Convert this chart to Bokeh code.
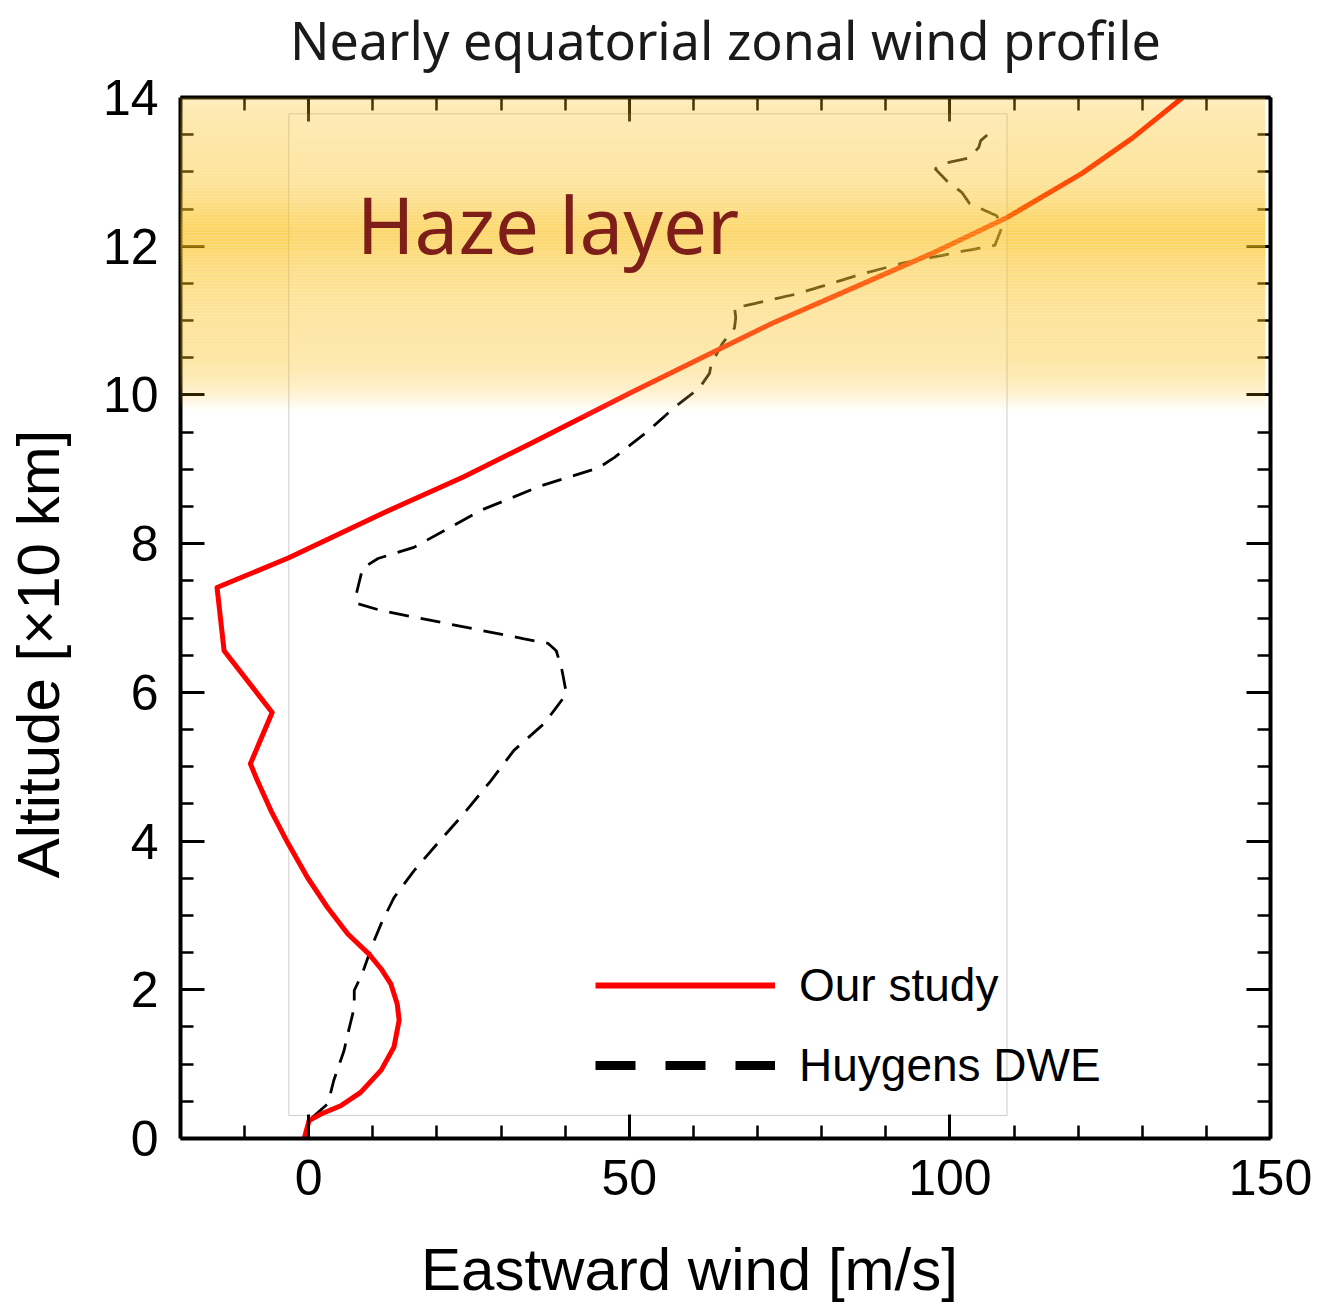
import numpy as np
from bokeh.plotting import figure
from bokeh.models import (Range1d, LinearAxis, FixedTicker, BoxAnnotation, Label,
                          Legend, LegendItem, CustomLabelingPolicy)
from bokeh.embed import file_html
from bokeh.resources import INLINE

# Zonal wind profile from our model (eastward wind in m/s, altitude in units of 10 km)
study_wind = [-0.7, 0.05, 1.9, 5.0, 8.1, 11.3, 13.3, 14.1, 13.8, 12.8, 11.3, 9.4, 6.1, 2.9,
              -0.2, -3.3, -5.9, -8.0, -9.1, -5.7, -13.2, -14.3, -3.1, 11.3, 24.2, 34.7,
              50.2, 61.3, 72.2, 85.2, 97.1, 109.0, 120.6, 128.4, 136.3]
study_alt = [0.0, 0.24, 0.33, 0.44, 0.62, 0.92, 1.23, 1.59, 1.81, 2.08, 2.28, 2.48, 2.75, 3.11,
             3.51, 3.98, 4.41, 4.81, 5.04, 5.73, 6.56, 7.41, 7.81, 8.4, 8.9, 9.35,
             10.03, 10.5, 10.96, 11.45, 11.9, 12.39, 12.98, 13.45, 14.0]

# Huygens Doppler Wind Experiment profile
dwe_wind = [0.5, 3.0, 3.9, 5.5, 6.1, 7.1, 7.1, 8.4, 10.0, 11.3, 13.3, 16.4, 19.5, 24.2, 28.4,
            32.0, 36.7, 38.3, 40.2, 39.4, 38.6, 37.3, 33.6, 11.3, 7.7, 7.3, 8.4, 10.8, 16.4,
            26.9, 36.3, 45.2, 47.7, 53.0, 57.0, 60.9, 62.5, 62.8, 64.5, 66.4, 66.6, 66.4,
            68.1, 76.2, 86.4, 93.0, 102.5, 107.0, 108.1, 107.3, 103.1, 101.9, 99.5, 97.7,
            98.9, 103.1, 104.5, 104.8, 106.7, 106.4]
dwe_alt = [0.28, 0.47, 0.78, 1.18, 1.41, 1.76, 1.99, 2.23, 2.62, 2.89, 3.24, 3.6, 3.91, 4.37,
           4.81, 5.22, 5.58, 5.76, 5.98, 6.34, 6.56, 6.66, 6.72, 7.1, 7.19, 7.28, 7.67, 7.8,
           7.95, 8.45, 8.78, 9.02, 9.16, 9.52, 9.83, 10.09, 10.29, 10.42, 10.69, 10.9, 11.04,
           11.18, 11.2, 11.36, 11.63, 11.78, 11.94, 12.01, 12.25, 12.41, 12.57, 12.72, 12.88,
           13.04, 13.11, 13.19, 13.33, 13.42, 13.56, 13.6]

series_labels = ["Our study", "Huygens DWE"]

x_major = [0, 50, 100, 150]
x_minor = [-10] + [v for v in range(10, 150, 10) if v % 50]
y_major = list(range(0, 15, 2))
y_minor = [v / 2 for v in range(1, 28) if v % 4]

# Haze layer opacity profile (altitude -> opacity)
haze_y = [9.78, 9.9, 10.05, 10.2, 10.5, 11.2, 11.7, 12.0, 12.18, 12.4, 12.6, 12.9, 13.4,
          13.8, 13.95, 14.05]
haze_a = [0.0, 0.1, 0.22, 0.3, 0.38, 0.43, 0.52, 0.62, 0.66, 0.6, 0.5, 0.42, 0.38,
          0.33, 0.27, 0.2]

X0, X1, Y0, Y1 = -20, 150, 0, 14
FRAME_TOP, FRAME_H = 97, 1041
PX_PER_Y = FRAME_H / (Y1 - Y0)

# trailing em + thin space nudges the centred axis titles along their axis
NUDGE = "\u2003\u2009"

p = figure(width=1326, height=1305, output_backend="svg", toolbar_location=None,
           x_range=Range1d(X0, X1), y_range=Range1d(Y0, Y1),
           x_axis_location=None, y_axis_location=None,
           min_border_left=180, min_border_right=56, min_border_top=FRAME_TOP,
           min_border_bottom=167)
p.outline_line_color = None
p.background_fill_color = "white"
p.border_fill_color = "white"
p.grid.visible = False
p.title.visible = False

no_labels = CustomLabelingPolicy(code="""
for (const i of indices) { indices.unset(i) }
return indices
""")


def frame_axis(ticks, minor, show_labels=True):
    ax = LinearAxis(ticker=FixedTicker(ticks=ticks, minor_ticks=minor))
    ax.axis_line_width = 4
    ax.axis_line_color = "black"
    ax.major_tick_in = 24
    ax.major_tick_out = 0
    ax.minor_tick_in = 13
    ax.minor_tick_out = 0
    ax.major_tick_line_width = 3
    ax.minor_tick_line_width = 2.5
    ax.major_label_text_font = "Liberation Sans"
    ax.major_label_text_color = "black"
    ax.axis_label_text_font = "Liberation Sans"
    ax.axis_label_text_font_size = "60px"
    ax.axis_label_text_font_style = "normal"
    ax.axis_label_text_color = "black"
    if show_labels:
        ax.major_label_text_font_size = "50px"
    else:
        ax.major_label_text_font_size = "0px"
        ax.major_label_standoff = 0
        ax.major_label_policy = no_labels
    return ax


left = frame_axis(y_major, y_minor)
left.major_label_standoff = 22
left.axis_label = "Altitude [×10 km]" + NUDGE
left.axis_label_standoff = 28

bottom = frame_axis(x_major, x_minor)
bottom.major_label_standoff = 21
bottom.axis_label = "Eastward wind [m/s]" + NUDGE
bottom.axis_label_standoff = 38

right = frame_axis(y_major, y_minor, show_labels=False)

top = frame_axis(x_major, x_minor, show_labels=False)
top.axis_label = "Nearly equatorial zonal wind profile"
top.axis_label_text_font = "Noto Sans"
top.axis_label_text_font_size = "52px"
top.axis_label_text_color = "#1a1a1a"
top.axis_label_standoff = 23

p.add_layout(left, "left")
p.add_layout(bottom, "below")
p.add_layout(right, "right")
p.add_layout(top, "above")

# Outline of the inset panel
inset = dict(left=-3.1, right=108.9, bottom=0.31, top=13.78)
p.quad(left=[inset["left"]], right=[inset["right"]], bottom=[inset["bottom"]],
       top=[inset["top"]], fill_color=None, line_color="#cdcdcd", line_width=1)

r_dwe = p.line(dwe_wind, dwe_alt, line_color="black", line_width=2.8, line_dash="20 12")
r_study = p.line(study_wind, study_alt, line_color="#ff0000", line_width=5,
                 line_join="round")

# Haze layer: thin translucent bands
rows = np.arange(97, 411, 3)
for r0 in rows:
    y_top = Y1 - (r0 - FRAME_TOP) / PX_PER_Y
    y_bot = Y1 - (r0 + 3 - FRAME_TOP) / PX_PER_Y
    a = float(np.interp(0.5 * (y_top + y_bot), haze_y, haze_a))
    if a <= 0:
        continue
    p.add_layout(BoxAnnotation(left=-21.4, right=149.2, bottom=y_bot, top=y_top,
                               fill_color="#fabe0f", fill_alpha=a, line_color=None,
                               level="annotation"))
p.add_layout(BoxAnnotation(left=inset["left"], right=inset["right"], bottom=9.7,
                           top=inset["top"], fill_color="white", fill_alpha=0.08,
                           line_color=None, level="annotation"))

p.add_layout(Label(x=7.5, y=12.3, text="Haze layer", text_font="Noto Sans",
                   text_font_size="78px", text_color="#7d1e19",
                   text_baseline="alphabetic", level="annotation"))

# Legend swatches
nan = float("nan")
leg_study = p.line(x=[nan], y=[nan], line_color="#ff0000", line_width=6)
leg_dwe = p.line(x=[nan], y=[nan], line_color="black", line_width=9, line_dash="40 30")
legend = Legend(items=[LegendItem(label=series_labels[0], renderers=[leg_study]),
                       LegendItem(label=series_labels[1], renderers=[leg_dwe])],
                location=(415, 46), orientation="vertical",
                glyph_width=180, glyph_height=50, label_height=50, spacing=26,
                label_standoff=24, padding=0, margin=0,
                border_line_color=None, background_fill_alpha=0,
                label_text_font="Liberation Sans", label_text_font_size="46px",
                label_text_color="black")
p.add_layout(legend)

open("out.html", "w").write(file_html(p, INLINE))
